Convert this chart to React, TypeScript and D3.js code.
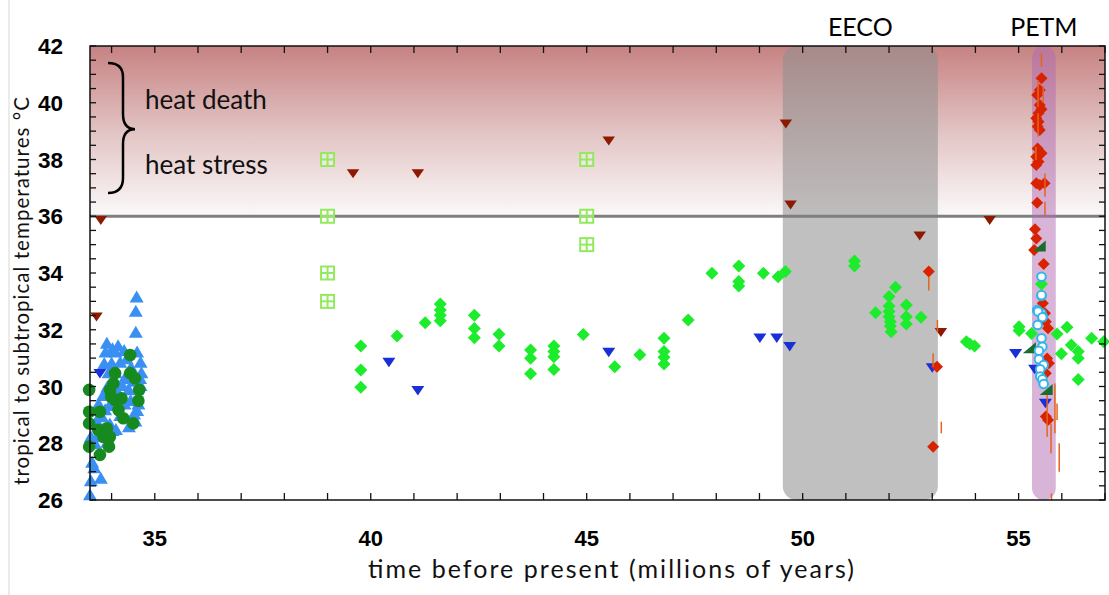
import React from "react";
import * as d3 from "d3";

// ---- data (time in Myr before present, temperature in °C) ----
const blueUp: [number, number][] = [
  [33.5, 26.2], [33.52, 26.7], [33.75, 26.78], [33.6, 27.15], [33.55, 27.35],
  [33.52, 28.25], [33.62, 28.0], [33.67, 28.25], [33.9, 28.05], [33.72, 28.55],
  [34.02, 28.47], [33.96, 28.7], [34.1, 28.5], [33.78, 28.95], [33.85, 29.2],
  [33.95, 29.35], [34.05, 29.55], [33.8, 29.7], [34.15, 29.8], [33.9, 30.0],
  [34.12, 30.1], [34.25, 30.05], [34.4, 29.9], [34.67, 30.05], [33.93, 30.5],
  [34.09, 30.5], [34.38, 30.45], [34.69, 30.5], [33.83, 30.83], [34.0, 30.85],
  [34.2, 30.87], [34.67, 30.87], [34.45, 30.7], [33.86, 31.23], [34.09, 31.23],
  [34.29, 31.29], [34.59, 31.23], [33.89, 31.54], [34.02, 31.35], [34.56, 31.93],
  [34.56, 32.67], [34.58, 33.17], [34.44, 29.52], [34.59, 29.17], [34.52, 29.05],
  [34.3, 29.4], [34.55, 28.8], [34.4, 28.6], [34.6, 29.6], [34.3, 30.3],
  [34.5, 30.2], [34.2, 29.0], [34.62, 29.4], [33.7, 29.4], [33.65, 28.8],
  [34.35, 31.0], [34.15, 31.45], [34.66, 30.3],
];

const greenCircles: [number, number][] = [
  [33.48, 29.88], [33.48, 29.11], [33.73, 29.11], [33.48, 28.7], [33.48, 27.88],
  [33.73, 27.59], [33.69, 28.47], [33.89, 28.53], [33.81, 28.23], [33.96, 28.23],
  [33.94, 27.88], [34.08, 30.47], [34.04, 30.11], [33.96, 29.88], [33.99, 29.64],
  [34.08, 29.52], [34.23, 29.58], [34.16, 29.17], [34.27, 28.88], [34.43, 31.11],
  [34.43, 30.47], [34.54, 30.29], [34.64, 29.88], [34.62, 29.5], [34.5, 28.7],
];

const darkRedDown: [number, number][] = [
  [33.75, 35.85], [33.65, 32.45], [39.59, 37.5], [41.09, 37.5], [45.51, 38.65],
  [49.61, 39.25], [49.72, 36.4], [52.71, 35.3], [53.2, 31.9], [54.33, 35.85],
];

const blueDown: [number, number][] = [
  [33.73, 30.45], [40.42, 30.85], [41.09, 29.85], [45.51, 31.2], [49.01, 31.7],
  [49.4, 31.7], [49.7, 31.4], [53.0, 30.65], [54.93, 31.15], [55.37, 30.6],
  [55.62, 29.4],
];

const greenDiamonds: [number, number][] = [
  [39.77, 31.43], [39.77, 30.58], [39.77, 29.97], [40.61, 31.78], [41.26, 32.25],
  [41.61, 32.91], [41.61, 32.7], [41.61, 32.51], [41.61, 32.32], [42.4, 32.51],
  [42.4, 32.04], [42.4, 31.72], [42.97, 31.84], [42.97, 31.43], [43.7, 31.29],
  [43.7, 31.0], [43.7, 30.45], [44.24, 31.43], [44.24, 31.23], [44.24, 31.05],
  [44.24, 30.6], [44.92, 31.83], [45.65, 30.7], [46.23, 31.12], [46.79, 31.7],
  [46.79, 31.23], [46.79, 31.03], [46.79, 30.79], [47.35, 32.34], [47.9, 33.99],
  [48.52, 34.25], [48.52, 33.7], [48.52, 33.54], [49.09, 33.99], [49.43, 33.87],
  [49.6, 34.05], [51.2, 34.42], [51.2, 34.25], [52.15, 33.5], [52.0, 33.17],
  [52.0, 32.84], [52.0, 32.64], [52.0, 32.46], [52.03, 32.28], [52.03, 32.13],
  [52.05, 31.93], [51.69, 32.6], [52.4, 32.87], [52.4, 32.46], [52.4, 32.2],
  [52.74, 32.44], [53.79, 31.58], [53.87, 31.5], [53.98, 31.43], [55.01, 32.11],
  [55.01, 31.97], [55.3, 31.87], [55.53, 33.61], [55.89, 31.85], [56.12, 32.09],
  [56.22, 31.46], [55.99, 31.15], [56.38, 31.23], [56.38, 31.0], [56.38, 30.25],
  [56.69, 31.7], [56.97, 31.58],
];

const crossedSquares: [number, number][] = [
  [39.0, 38], [39.0, 36], [39.0, 34], [39.0, 33],
  [45.0, 38], [45.0, 36], [45.0, 35],
];

const redDiamonds: [number, number][] = [
  [52.92, 34.05], [53.11, 30.7], [53.02, 27.88],
  [55.53, 40.86], [55.49, 40.45], [55.43, 40.27], [55.49, 39.92], [55.53, 39.77],
  [55.46, 39.63], [55.41, 39.45], [55.46, 39.33], [55.44, 39.16], [55.49, 39.04],
  [55.44, 38.39], [55.53, 38.22], [55.41, 38.1], [55.46, 37.92], [55.41, 37.81],
  [55.41, 37.16], [55.49, 37.1], [55.6, 37.16], [55.43, 36.48], [55.38, 35.54],
  [55.41, 35.22], [55.36, 34.81], [55.58, 34.32], [55.56, 32.93], [55.61, 32.58],
  [55.63, 32.28], [55.68, 32.05], [55.66, 30.99], [55.7, 30.82], [55.63, 30.47],
  [55.63, 28.94], [55.68, 28.82],
];

// vertical ranges: [time, low, high]
const orangeRanges: [number, number, number][] = [
  [55.53, 41.26, 41.75], [55.45, 39.86, 40.8], [55.57, 39.99, 40.57],
  [55.45, 38.81, 39.63], [55.4, 37.98, 38.45], [55.61, 36.69, 37.51],
  [55.61, 36.04, 36.51], [52.92, 33.38, 33.87], [53.02, 30.7, 31.17],
  [53.12, 31.93, 32.34], [53.21, 28.35, 28.76], [55.84, 28.35, 30.11],
  [55.89, 28.82, 29.4], [55.66, 28.23, 29.88], [55.75, 27.65, 28.7],
  [55.94, 27.0, 28.0], [55.76, 26.0, 26.23],
];

const darkGreenWedges: [number, number][] = [
  [55.49, 34.93], [55.26, 31.35], [55.65, 29.88],
];

const cyanCircles: [number, number][] = [
  [55.53, 33.87], [55.53, 33.2], [55.43, 32.69], [55.53, 32.58], [55.56, 32.46],
  [55.45, 32.64], [55.55, 32.44], [55.44, 32.17], [55.53, 31.7], [55.55, 31.4],
  [55.47, 31.26], [55.47, 30.96], [55.58, 30.76], [55.5, 30.61], [55.5, 30.35],
  [55.55, 30.25], [55.58, 30.09], [55.53, 33.22],
];

const yTickLabels = [26, 28, 30, 32, 34, 36, 38, 40, 42];
const xTickLabels = [35, 40, 45, 50, 55];
const eeco: [number, number] = [49.54, 53.13];
const petm: [number, number] = [55.31, 55.86];
const stressLine = 36;

// ---- layout ----
const W = 1109;
const H = 595;
const x = d3.scaleLinear().domain([33.5, 57.0]).range([90, 1105]);
const y = d3.scaleLinear().domain([26, 42]).range([500, 46]);

const labelFont = "Lato, 'Open Sans', sans-serif";
const tickFont = "'Liberation Sans', Arial, sans-serif";

const pTriDown = (w: number, h: number) => `M${-w / 2},${-h / 2}L${w / 2},${-h / 2}L0,${h / 2}Z`;
const pTriUp = (w: number, h: number) => `M${-w / 2},${h / 2}L${w / 2},${h / 2}L0,${-h / 2}Z`;
const pDiamond = (r: number) => `M0,${-r}L${r},0L0,${r}L${-r},0Z`;
const pWedge = "M-7,5L6,5L6,-6Z";

export default function App() {
  const xMinor = d3.range(34, 58, 1);
  const yMinor = d3.range(26, 42.01, 0.5);
  const bandTop = y(42);
  const bandBottom = y(stressLine);

  return (
    <svg
      width={W}
      height={H}
      style={{ position: "absolute", left: 0, top: 0, background: "#fff" }}
    >
      <defs>
        <linearGradient id="heatGrad" x1="0" y1="0" x2="0" y2="1">
          <stop offset="0" stopColor="#c78282" />
          <stop offset="0.5" stopColor="#e2c3c3" />
          <stop offset="1" stopColor="#fbf9f9" />
        </linearGradient>
      </defs>

      {/* faint page edge */}
      <line x1={9} x2={9} y1={0} y2={H} stroke="#e4e4e4" strokeWidth={1.5} />

      {/* heat zone above 36 °C */}
      <rect
        x={x(33.5)}
        y={bandTop}
        width={x(57) - x(33.5)}
        height={bandBottom - bandTop}
        fill="url(#heatGrad)"
      />

      {/* EECO interval */}
      <rect
        x={x(eeco[0])}
        y={y(42)}
        width={x(eeco[1]) - x(eeco[0])}
        height={y(26) - y(42)}
        rx={14}
        ry={14}
        fill="#8f8f8f"
        fillOpacity={0.56}
      />

      {/* 36 °C threshold */}
      <line
        x1={x(33.5)}
        x2={x(57)}
        y1={y(stressLine)}
        y2={y(stressLine)}
        stroke="#7f7f7f"
        strokeWidth={3}
      />

      {/* PETM interval */}
      <rect
        x={x(petm[0])}
        y={y(42)}
        width={x(petm[1]) - x(petm[0])}
        height={y(26) - y(42)}
        rx={12}
        ry={12}
        fill="#b06ab2"
        fillOpacity={0.5}
      />

      {/* crossed squares */}
      {crossedSquares.map(([t, v], i) => (
        <g key={`cs${i}`} transform={`translate(${x(t)},${y(v)})`} stroke="#93ea5c" strokeWidth={2} fill="#fff" fillOpacity={0.35}>
          <rect x={-6.5} y={-6.5} width={13} height={13} />
          <line x1={0} x2={0} y1={-6.5} y2={6.5} />
          <line x1={-6.5} x2={6.5} y1={0} y2={0} />
        </g>
      ))}

      {/* blue upward triangles */}
      {blueUp.map(([t, v], i) => (
        <path key={`bu${i}`} d={pTriUp(14, 12)} transform={`translate(${x(t)},${y(v)})`} fill="#3a8ff2" />
      ))}

      {/* dark green circles */}
      {greenCircles.map(([t, v], i) => (
        <circle key={`gc${i}`} cx={x(t)} cy={y(v)} r={6.3} fill="#178a1f" />
      ))}

      {/* bright green diamonds */}
      {greenDiamonds.map(([t, v], i) => (
        <path key={`gd${i}`} d={pDiamond(6.5)} transform={`translate(${x(t)},${y(v)})`} fill="#1cec2c" />
      ))}

      {/* blue downward triangles */}
      {blueDown.map(([t, v], i) => (
        <path key={`bd${i}`} d={pTriDown(13, 9.5)} transform={`translate(${x(t)},${y(v)})`} fill="#1b2fd6" />
      ))}

      {/* dark red downward triangles */}
      {darkRedDown.map(([t, v], i) => (
        <path key={`rd${i}`} d={pTriDown(12.5, 9)} transform={`translate(${x(t)},${y(v)})`} fill="#8c1a02" />
      ))}

      {/* red diamonds */}
      {redDiamonds.map(([t, v], i) => (
        <path key={`rdm${i}`} d={pDiamond(6)} transform={`translate(${x(t)},${y(v)})`} fill="#d92300" />
      ))}

      {/* orange ranges */}
      {orangeRanges.map(([t, lo, hi], i) => (
        <line key={`or${i}`} x1={x(t)} x2={x(t)} y1={y(lo)} y2={y(hi)} stroke="#e5651e" strokeWidth={1.5} />
      ))}

      {/* dark green wedges */}
      {darkGreenWedges.map(([t, v], i) => (
        <path key={`dw${i}`} d={pWedge} transform={`translate(${x(t)},${y(v)})`} fill="#1b6d2d" />
      ))}

      {/* cyan open circles */}
      {cyanCircles.map(([t, v], i) => (
        <circle key={`cc${i}`} cx={x(t)} cy={y(v)} r={4.3} fill="#fff" stroke="#2fb6ec" strokeWidth={2} />
      ))}

      {/* frame */}
      <rect
        x={x(33.5)}
        y={y(42)}
        width={x(57) - x(33.5)}
        height={y(26) - y(42)}
        fill="none"
        stroke="#111"
        strokeWidth={1.5}
      />

      {/* x ticks, bottom and top, inward */}
      {xMinor.map((t) => (
        <g key={`xt${t}`}>
          <line x1={x(t)} x2={x(t)} y1={y(26)} y2={y(26) - 7} stroke="#111" strokeWidth={1.3} />
          <line x1={x(t)} x2={x(t)} y1={y(42)} y2={y(42) + 7} stroke="#111" strokeWidth={1.3} />
        </g>
      ))}

      {/* y ticks, left and right, inward */}
      {yMinor.map((v) => (
        <g key={`yt${v}`}>
          <line x1={x(33.5)} x2={x(33.5) + 6} y1={y(v)} y2={y(v)} stroke="#111" strokeWidth={1.3} />
          <line x1={x(57)} x2={x(57) - 6} y1={y(v)} y2={y(v)} stroke="#111" strokeWidth={1.3} />
        </g>
      ))}

      {/* y tick labels */}
      {yTickLabels.map((v) => (
        <text
          key={`yl${v}`}
          x={63}
          y={y(v)}
          dy="0.36em"
          textAnchor="end"
          fontFamily={tickFont}
          fontWeight="bold"
          fontSize={22.5}
          fill="#000"
        >
          {v}
        </text>
      ))}

      {/* x tick labels */}
      {xTickLabels.map((t) => (
        <text
          key={`xl${t}`}
          x={x(t)}
          y={538}
          dy="0.36em"
          textAnchor="middle"
          fontFamily={tickFont}
          fontWeight="bold"
          fontSize={22}
          fill="#000"
        >
          {t}
        </text>
      ))}

      {/* axis titles */}
      <text
        x={611}
        y={578}
        textAnchor="middle"
        fontFamily={labelFont}
        fontSize={25}
        textLength={486}
        lengthAdjust="spacing"
        fill="#111"
      >
        time before present (millions of years)
      </text>
      <text
        transform={`translate(29,${291}) rotate(-90)`}
        textAnchor="middle"
        fontFamily={labelFont}
        fontSize={20.5}
        textLength={388}
        lengthAdjust="spacing"
        fill="#111"
      >
        tropical to subtropical temperatures °C
      </text>

      {/* interval labels */}
      <text x={(x(eeco[0]) + x(eeco[1])) / 2} y={36} textAnchor="middle" fontFamily={labelFont} fontSize={25} fill="#000">
        EECO
      </text>
      <text x={(x(petm[0]) + x(petm[1])) / 2} y={36} textAnchor="middle" fontFamily={labelFont} fontSize={25} fill="#000">
        PETM
      </text>

      {/* brace and heat annotations */}
      <path
        d={`M108,${y(41.4)} Q123,${y(41.4)} 123,${y(40.9)} L123,${y(39.6)} Q123,${y(39.07)} 135,${y(39.07)} Q123,${y(39.07)} 123,${y(38.55)} L123,${y(37.35)} Q123,${y(36.82)} 108,${y(36.82)}`}
        fill="none"
        stroke="#000"
        strokeWidth={2.5}
      />
      <text x={145} y={y(40.1)} dy="0.35em" fontFamily={labelFont} fontSize={26} fill="#111">
        heat death
      </text>
      <text x={145} y={y(37.8)} dy="0.35em" fontFamily={labelFont} fontSize={26} fill="#111">
        heat stress
      </text>
    </svg>
  );
}
